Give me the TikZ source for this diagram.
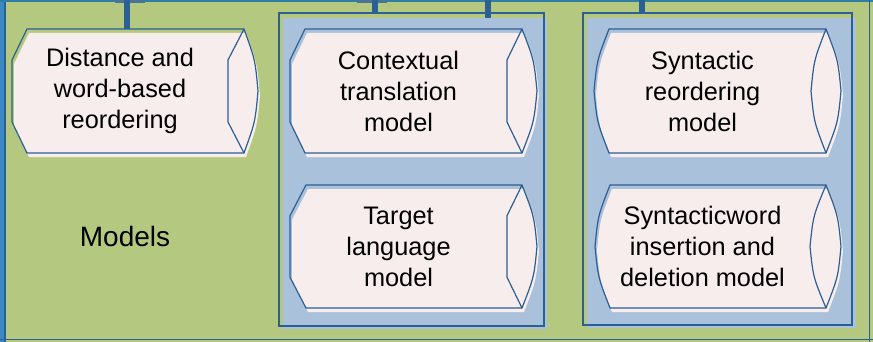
\documentclass[tikz,border=0pt]{standalone}
\usepackage{fontspec}
\setmainfont{Liberation Sans}
\definecolor{bggreen}{HTML}{B4C97F}
\definecolor{contblue}{HTML}{A9C1DA}
\definecolor{linec}{HTML}{2C5F93}
\definecolor{boxfill}{HTML}{F8EDED}
\definecolor{tealc}{HTML}{2F7FA5}
\definecolor{stripec}{HTML}{3C88C2}
\definecolor{capc}{HTML}{4A7398}
\tikzset{
  outl/.style={draw=linec, line width=0.9pt, line join=miter},
  contline/.style={draw=linec, line width=0.9pt},
  bar/.style={draw=linec, line width=4.5pt},
  fntext/.style={align=center, font=\fontsize{19}{23.25}\selectfont, text=black, inner sep=0pt},
  bigtext/.style={font=\fontsize{21}{25}\selectfont, text=black, inner sep=0pt}
}
\newcommand\setfn[7]{%
  \def\fL{#1}\def\fTL{#2}\def\fTR{#3}\def\fO{#4}\def\fI{#5}\def\fT{#6}\def\fB{#7}%
  \pgfmathsetmacro\fh{#7-#6}%
  \pgfmathsetmacro\fya{#6+0.25*\fh}%
  \pgfmathsetmacro\fyb{#6+0.75*\fh}%
  \pgfmathsetmacro\fym{#6+0.5*\fh}%
  \pgfmathsetmacro\fxc{(#1+#5)/2}%
  \pgfmathsetmacro\fOc{#3+0.8*(#4-#3)}%
  \pgfmathsetmacro\fIc{#3-0.8*(#3-#5)}%
  \pgfmathsetmacro\fLc{#2-0.8*(#2-#1)}%
}
\newcommand\hexfn[2]{%
  \fill[boxfill, shift={(2,4)}] (\fTL,\fT) -- (\fL,\fya) -- (\fL,\fyb) -- (\fTL,\fB) -- (\fTR,\fB)
     .. controls (\fOc,\fyb) .. (\fO,\fym) .. controls (\fOc,\fya) .. (\fTR,\fT) -- cycle;
  \draw[outl] (\fTL,\fT) -- (\fL,\fya) -- (\fL,\fyb) -- (\fTL,\fB) -- (\fTR,\fB)
     .. controls (\fOc,\fyb) .. (\fO,\fym) .. controls (\fOc,\fya) .. (\fTR,\fT) -- cycle;
  \draw[outl] (\fTR,\fT) -- (\fI,\fya) -- (\fI,\fyb) -- (\fTR,\fB);
  \node[fntext] (#1) at (\fxc,\fym) {#2};
}
\newcommand\lensfn[2]{%
  \fill[boxfill, shift={(2,4)}] (\fTL,\fT) .. controls (\fLc,\fya) .. (\fL,\fym) .. controls (\fLc,\fyb) .. (\fTL,\fB) -- (\fTR,\fB)
     .. controls (\fOc,\fyb) .. (\fO,\fym) .. controls (\fOc,\fya) .. (\fTR,\fT) -- cycle;
  \draw[outl] (\fTL,\fT) .. controls (\fLc,\fya) .. (\fL,\fym) .. controls (\fLc,\fyb) .. (\fTL,\fB) -- (\fTR,\fB)
     .. controls (\fOc,\fyb) .. (\fO,\fym) .. controls (\fOc,\fya) .. (\fTR,\fT) -- cycle;
  \draw[outl] (\fTR,\fT) .. controls (\fIc,\fya) .. (\fI,\fym) .. controls (\fIc,\fyb) .. (\fTR,\fB);
  \node[fntext] (#1) at (\fxc,\fym) {#2};
}
\begin{document}
\begin{tikzpicture}[x=0.75pt, y=-0.75pt]
  \useasboundingbox (0,0) rectangle (873,342);
  % background frame
  \fill[bggreen] (0,0) rectangle (873,342);
  \fill[stripec] (0,0) rectangle (5,342);
  \draw[linec, line width=0.9pt] (5,0) -- (5,342);
  \draw[tealc, line width=2pt] (0,1) -- (873,1);
  \draw[linec, line width=0.9pt] (0,339.5) -- (873,339.5);
  \draw[linec, line width=0.9pt] (869.5,0) -- (869.5,342);
  % containers
  \fill[contblue] (283,18) rectangle (547,329);
  \draw[contline] (279,13) rectangle (544,326);
  \fill[contblue] (587,18) rectangle (856,328);
  \draw[contline] (583,13) rectangle (852,325);
  \coordinate (cont1top) at (375,13);
  \coordinate (cont1fill) at (488,18);
  \coordinate (cont2top) at (642,13);
  % boxes
  \setfn{12}{27}{244}{258}{228}{29}{153}
  \hexfn{dist}{Distance and\\word-based\\reordering}
  \coordinate (disttop) at (127,29);
  \setfn{290}{305}{522}{537}{507}{29}{153}
  \hexfn{ctx}{Contextual\\translation\\model}
  \setfn{290}{306}{522}{537}{507}{185}{308}
  \hexfn{tlm}{Target\\language\\model}
  \setfn{594}{609}{826}{841}{811}{29}{153}
  \lensfn{synre}{Syntactic\\reordering\\model}
  \setfn{595}{610}{826}{841}{810}{185}{308}
  \lensfn{synins}{Syntacticword\\insertion and\\deletion model}
  \node[bigtext] (models) at (125,236) {Models};
  % top connectors
  \coordinate (t1) at (127,0);
  \coordinate (t2) at (375,0);
  \coordinate (t3) at (488,0);
  \coordinate (t4) at (642,0);
  \fill[capc] (115,0) rectangle (145,3);
  \fill[capc] (357,0) rectangle (387,3);
  \draw[bar] (t1) -- (disttop);
  \draw[bar] (t2) -- (cont1top);
  \draw[bar] (t3) -- (cont1fill);
  \draw[bar] (t4) -- (cont2top);
\end{tikzpicture}
\end{document}
